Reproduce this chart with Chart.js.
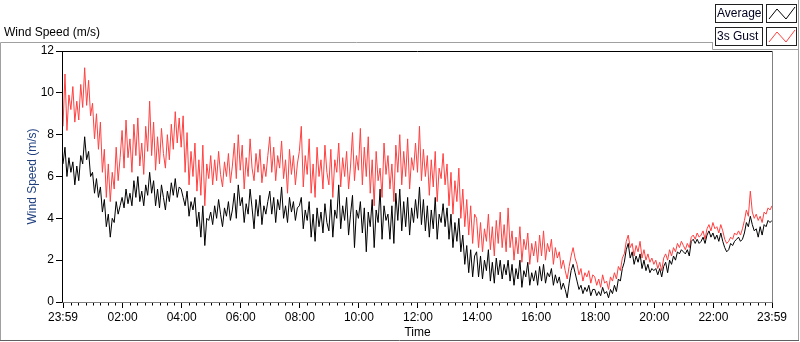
<!DOCTYPE html>
<html>
<head>
<meta charset="utf-8">
<script src="https://cdn.jsdelivr.net/npm/chart.js@4.4.1/dist/chart.umd.min.js"></script>
<style>
html,body{margin:0;padding:0;background:#fff;}
#wrap{width:800px;height:342px;position:relative;}
</style>
</head>
<body>
<div id="wrap"><canvas id="c" width="800" height="342"></canvas></div>
<script>
// ---- data (one sample every 4 minutes, starting 23:59) ----
const sampleStepMinutes = 4;
const averageSpeed = [
6.6,7.4,6.0,6.9,6.2,6.7,5.6,6.5,5.8,7.0,6.6,7.9,6.8,7.2,6.0,
6.2,5.2,5.9,5.0,5.5,4.3,4.9,3.6,4.2,3.1,4.0,3.8,4.8,4.2,4.6,
5.0,4.5,5.4,4.7,5.2,4.6,5.8,5.0,6.0,4.8,5.3,4.6,5.6,5.1,6.2,
5.2,5.8,4.6,5.4,4.5,5.6,5.0,4.4,5.3,4.8,5.7,5.1,5.9,5.0,5.5,
5.4,5.0,4.6,5.3,4.1,4.8,4.4,5.0,3.6,4.3,3.1,4.6,2.7,4.0,3.9,
4.3,3.7,4.6,4.0,4.9,4.2,3.6,4.5,4.1,4.8,3.9,4.4,5.2,4.0,5.6,
4.6,5.0,3.8,4.7,4.2,5.4,4.5,3.5,4.9,4.1,5.1,3.7,4.6,4.2,4.8,
5.3,4.2,5.0,3.8,4.9,4.4,5.5,4.0,4.6,3.8,5.0,4.3,4.8,3.9,4.5,
4.6,5.0,3.5,4.4,3.9,4.8,3.1,4.2,2.9,4.5,3.6,4.3,3.3,4.7,3.8,
3.4,4.9,3.1,4.4,4.0,5.6,3.5,4.6,3.9,5.0,3.2,4.2,5.1,2.6,4.4,
4.0,4.8,3.3,4.5,2.4,4.3,3.6,4.9,2.6,4.4,3.8,5.4,3.0,4.6,3.9,
4.2,3.0,4.6,2.8,5.2,3.9,5.4,3.4,4.8,3.6,5.0,3.2,4.5,3.8,4.9,
4.0,5.5,3.7,4.9,3.4,4.6,3.1,4.4,3.5,5.0,3.0,4.2,3.8,4.7,3.6,
4.5,3.0,4.2,2.6,3.8,2.9,4.0,2.4,3.2,1.8,2.7,1.4,2.5,1.2,2.2,
2.4,1.2,2.2,1.1,2.0,1.5,2.5,1.0,1.9,0.9,2.1,1.3,2.0,1.1,1.8,
1.3,2.0,1.0,1.8,0.8,1.6,1.1,2.0,0.7,1.5,1.2,1.9,0.8,1.4,1.0,
1.5,0.8,1.7,1.0,1.8,0.9,1.4,1.2,1.6,0.8,1.3,0.9,1.2,0.6,0.9,
0.6,0.2,0.9,1.5,1.8,1.4,1.0,0.6,0.8,0.4,0.7,0.5,0.8,0.3,0.6,
0.6,0.3,0.5,0.3,0.7,0.4,0.5,0.2,0.6,0.4,0.8,0.5,1.1,1.0,1.6,
1.9,2.5,2.8,2.1,2.4,1.8,2.2,1.9,2.3,1.6,2.0,1.5,1.8,1.4,1.6,
1.5,1.6,1.3,1.6,1.2,1.7,1.9,1.4,2.0,1.8,2.2,2.0,2.4,2.3,2.5,
2.4,2.3,2.5,2.2,2.9,3.0,2.8,3.0,2.8,2.9,3.1,2.8,3.2,3.4,3.1,
3.3,3.0,3.2,2.9,3.3,2.9,2.6,2.4,2.5,2.8,2.7,2.9,3.0,3.1,2.9,
3.0,3.3,3.8,3.6,4.1,3.7,3.4,3.5,3.1,3.6,3.2,3.7,3.6,3.9,3.8,3.9
];
const gustSpeed = [
8.4,10.9,8.2,9.9,9.2,10.3,8.6,9.6,8.7,10.4,9.3,11.2,9.4,10.6,8.9,
9.5,7.8,9.0,7.3,8.6,6.2,7.3,5.0,6.6,4.8,6.2,5.4,7.4,5.8,6.9,
8.2,6.4,8.7,6.9,7.8,6.2,8.5,7.0,8.8,6.5,7.6,6.1,8.4,7.2,9.6,
7.0,8.6,6.3,7.9,6.6,8.3,7.1,6.4,8.0,6.8,8.5,7.3,9.1,7.6,8.8,
7.4,8.9,6.2,8.1,5.6,7.2,6.0,7.6,5.3,6.8,5.1,7.5,4.6,6.6,5.9,
7.0,5.6,6.8,5.8,7.2,6.1,5.5,6.7,6.0,7.1,5.7,6.5,7.6,5.9,8.0,
6.3,7.5,5.4,6.9,6.0,7.8,6.4,5.8,7.1,6.2,7.3,5.7,6.6,6.0,7.0,
7.9,6.2,7.4,5.8,7.0,6.4,7.7,5.9,6.8,5.2,7.3,6.1,7.0,5.6,6.6,
7.2,8.4,5.5,7.0,6.1,7.8,5.2,6.6,5.0,7.4,6.0,6.8,5.4,7.5,6.2,
5.6,7.3,5.0,6.8,6.2,7.6,5.5,6.9,6.0,7.2,5.4,6.5,8.1,5.8,7.0,
6.3,8.3,5.6,7.4,6.0,7.9,5.2,6.8,4.6,7.2,5.8,6.4,5.0,7.6,6.1,
7.0,5.4,6.6,4.8,7.5,6.2,8.0,5.6,7.2,6.0,7.8,5.4,6.9,6.3,7.6,
6.2,8.4,5.8,7.3,6.0,7.0,5.1,6.8,5.5,7.2,4.8,6.4,5.9,7.1,5.6,
6.6,4.6,6.2,4.2,5.8,4.8,6.4,4.0,5.4,3.6,4.9,3.2,4.6,2.8,4.2,
4.0,2.6,3.8,2.4,3.5,2.9,4.2,2.5,3.6,2.2,3.9,2.8,4.3,2.6,3.7,
2.4,4.5,2.6,3.4,2.0,3.1,2.3,3.6,1.9,3.0,2.5,3.3,1.8,2.8,2.2,
2.9,1.9,3.2,2.2,3.4,2.0,2.8,2.4,3.0,1.8,2.6,2.1,2.4,1.6,2.0,
1.5,1.1,1.7,2.2,2.6,2.1,1.8,1.3,1.6,1.0,1.4,1.2,1.5,0.9,1.3,
1.2,0.8,1.1,0.7,1.3,0.9,1.0,0.6,1.2,1.0,1.4,1.1,1.7,1.5,2.1,
2.3,2.9,3.2,2.6,2.8,2.2,2.7,2.4,2.9,2.1,2.5,2.0,2.3,1.9,2.1,
1.8,2.0,1.6,1.9,1.5,2.1,2.3,2.0,2.5,2.2,2.6,2.4,2.8,2.6,2.9,
2.7,2.5,2.8,2.6,3.1,3.2,3.0,3.3,3.1,3.2,3.4,3.0,3.5,3.7,3.4,
3.8,3.5,3.6,3.3,3.7,3.4,3.0,2.8,2.9,3.1,3.0,3.3,3.2,3.4,3.2,
3.5,3.9,4.4,4.1,5.3,4.3,4.0,4.2,3.9,4.1,3.8,4.3,4.2,4.5,4.4,4.6
];
const xTickLabels = ['23:59','02:00','04:00','06:00','08:00','10:00','12:00','14:00','16:00','18:00','20:00','22:00','23:59'];
const yTickValues = [0,2,4,6,8,10,12];
const seriesNames = ['Average','3s Gust'];
const seriesColors = ['#000000','#ff4040'];

// ---- helpers ----
const startMin = 23*60+59;
function labelToOffset(lbl, idx){
  if (idx === xTickLabels.length-1) return 1440;
  const [h,m] = lbl.split(':').map(Number);
  return ((h*60+m) - startMin + 1440) % 1440;
}
const majorOffsets = xTickLabels.map(labelToOffset);
const toPoints = arr => arr.map((v,i)=>({x:i*sampleStepMinutes, y:v}));

Chart.defaults.font.family = '"Liberation Sans", Arial, sans-serif';
Chart.defaults.font.size = 12;
Chart.defaults.color = '#000';

const framePlugin = {
  id:'frame',
  afterDraw(chart){
    const ctx = chart.ctx, a = chart.chartArea;
    ctx.save();
    // outer panel frame
    ctx.lineWidth = 1;
    ctx.strokeStyle = '#a0a0a0';
    ctx.beginPath();
    ctx.moveTo(0.5,340.5); ctx.lineTo(0.5,42.5); ctx.lineTo(712,42.5);
    ctx.moveTo(798.5,0); ctx.lineTo(798.5,340.5);
    ctx.stroke();
    ctx.strokeStyle = '#606060';
    ctx.beginPath(); ctx.moveTo(0,340.5); ctx.lineTo(799,340.5); ctx.stroke();
    // legend panel
    ctx.strokeStyle = '#a0a0a0';
    ctx.beginPath(); ctx.moveTo(712.5,42); ctx.lineTo(712.5,49.5); ctx.lineTo(799,49.5); ctx.stroke();
    // title
    ctx.fillStyle = '#000';
    ctx.font = '12px "Liberation Sans", Arial, sans-serif';
    ctx.textBaseline = 'alphabetic';
    ctx.textAlign = 'left';
    ctx.fillText('Wind Speed (m/s)', 4, 36);
    // legend items
    chart.data.datasets.forEach((ds,i)=>{
      const top = 4 + i*23;
      ctx.fillStyle = '#fff';
      ctx.fillRect(715.5, top+0.5, 47, 18);
      ctx.fillRect(766.5, top+0.5, 30, 18);
      ctx.strokeStyle = '#202020';
      ctx.strokeRect(715.5, top+0.5, 47, 18);
      ctx.strokeRect(766.5, top+0.5, 30, 18);
      ctx.fillStyle = '#000020';
      ctx.textBaseline = 'middle';
      ctx.fillText(ds.label, 717, top+10);
      ctx.strokeStyle = ds.borderColor;
      ctx.beginPath();
      ctx.moveTo(769, top+15); ctx.lineTo(777, top+5); ctx.lineTo(786, top+15); ctx.lineTo(795, top+3);
      ctx.stroke();
    });
    // minor x ticks
    const xs = chart.scales.x;
    ctx.strokeStyle = '#000';
    ctx.beginPath();
    for (let m = 16; m < 1440; m += 15){
      if (majorOffsets.includes(m)) continue;
      const px = Math.round(xs.getPixelForValue(m)) + 0.5;
      ctx.moveTo(px, a.bottom); ctx.lineTo(px, a.bottom + 3.5);
    }
    ctx.stroke();
    // plot frame
    ctx.strokeStyle = '#000';
    ctx.beginPath();
    ctx.moveTo(a.left-0.5, a.bottom+0.5); ctx.lineTo(a.left-0.5, a.top+0.5); ctx.lineTo(a.right+0.5, a.top+0.5);
    ctx.stroke();
    ctx.strokeStyle = '#808080';
    ctx.beginPath();
    ctx.moveTo(a.right+0.5, a.top+0.5); ctx.lineTo(a.right+0.5, a.bottom+0.5); ctx.lineTo(a.left-0.5, a.bottom+0.5);
    ctx.stroke();
    ctx.restore();
  }
};

new Chart(document.getElementById('c'), {
  type:'line',
  data:{
    datasets:[
      {label:seriesNames[0], data:toPoints(averageSpeed), borderColor:seriesColors[0], borderWidth:1, pointRadius:0, tension:0},
      {label:seriesNames[1], data:toPoints(gustSpeed), borderColor:seriesColors[1], borderWidth:1, pointRadius:0, tension:0}
    ]
  },
  options:{
    responsive:false,
    animation:false,
    devicePixelRatio:1,
    events:[],
    layout:{padding:{top:51, right:28, left:0, bottom:0}},
    plugins:{legend:{display:false}, title:{display:false}, tooltip:{enabled:false}},
    scales:{
      x:{
        type:'linear', min:0, max:1440,
        afterBuildTicks(s){ s.ticks = majorOffsets.map(v=>({value:v})); },
        afterFit(s){ s.height = 40; },
        ticks:{
          autoSkip:false, maxRotation:0, minRotation:0, padding:2, color:'#000',
          callback(v){ const i = majorOffsets.indexOf(v); return i>=0 ? xTickLabels[i] : ''; }
        },
        grid:{drawOnChartArea:false, drawTicks:true, tickLength:6, color:'#000'},
        border:{display:false},
        title:{display:true, text:'Time', color:'#000', font:{size:12}, padding:{top:0,bottom:2}}
      },
      y:{
        type:'linear', min:0, max:12,
        afterBuildTicks(s){ s.ticks = yTickValues.map(v=>({value:v})); },
        afterFit(s){ s.width = 63; },
        ticks:{padding:2, color:'#000'},
        grid:{drawOnChartArea:false, drawTicks:true, tickLength:7, color:'#000'},
        border:{display:false},
        title:{display:true, text:'Wind Speed (m/s)', color:'#1f3f7f', font:{size:12}, padding:{top:25,bottom:0}}
      }
    }
  },
  plugins:[framePlugin]
});
</script>
</body>
</html>
